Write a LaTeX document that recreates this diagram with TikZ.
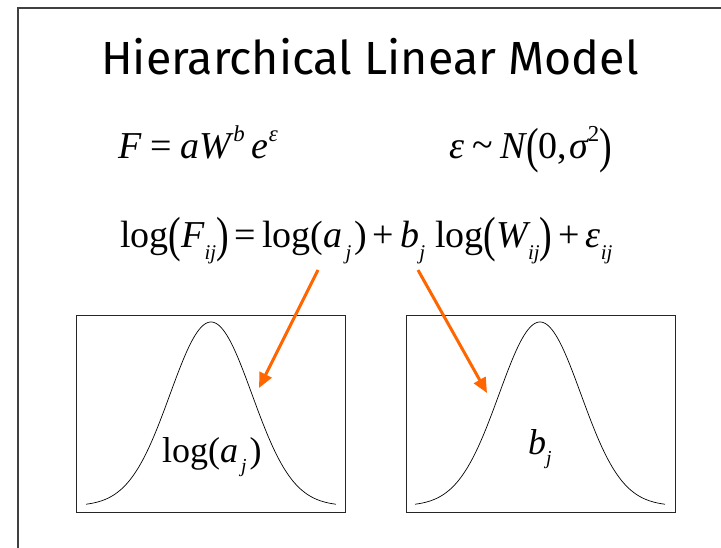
\documentclass[tikz,border=0pt]{standalone}
\usepackage{fontspec}
\setmainfont{Liberation Serif}
\newfontfamily\titlefont{Fira Sans}
\usetikzlibrary{arrows.meta}
\definecolor{arroworange}{RGB}{255,102,0}
\newcommand\mysub[1]{\raisebox{-0.3em}{\scalebox{0.55}{\itshape #1}}}
\newcommand\mysup[1]{\raisebox{0.45em}{\scalebox{0.6}{#1}}}
\newcommand\bigL{\raisebox{-0.1em}{\scalebox{1}[1.3]{(}}}
\newcommand\bigR{\raisebox{-0.1em}{\scalebox{1}[1.3]{)}}}
\newcommand\opsp{\kern6pt}
\newcommand\eqsp{\kern9pt}
\tikzset{
  eqtext/.style={anchor=base west, inner sep=0pt, font=\fontsize{38}{38}\selectfont},
  lbltext/.style={anchor=base west, inner sep=0pt, font=\fontsize{36}{36}\selectfont},
  plotbox/.style={draw=black!85, line width=0.8pt, inner sep=0pt, minimum width=269pt, minimum height=197pt},
  bell/.style={line width=0.7pt, smooth, samples=120, domain=-125:125},
  orangearrow/.style={draw=arroworange, line width=3pt, -{Triangle[length=15pt,width=13pt]}}
}
\begin{document}
\begin{tikzpicture}[x=1pt,y=-1pt]
\useasboundingbox (0,0) rectangle (721,548);
\fill[white] (0,0) rectangle (721,548);
% slide frame
\draw[line width=1.5pt, black!75] (18,548) -- (18,8) -- (721,8);
% title
\node[anchor=base, inner sep=0pt, font=\titlefont\fontsize{46.5}{46.5}\selectfont] (title) at (370,75) {Hierarchical Linear Model};
% equations
\node[eqtext] (eqone) at (118,159) {\itshape F\upshape\eqsp=\eqsp\itshape aW\kern2pt\mysup{\itshape b}\kern7pt e\mysup{\itshape ε}};
\node[eqtext] (eqtwo) at (449,159) {\itshape ε\upshape\kern8pt\raisebox{0.05em}{\textasciitilde}\kern8pt\itshape N\upshape\bigL 0,\kern2pt\itshape σ\upshape\mysup{2}\bigR};
\node[eqtext] (eqthree) at (120,248) {log\bigL\itshape F\mysub{ij}\upshape\bigR\opsp=\opsp log(\itshape a\kern3pt\mysub{j}\upshape\kern3pt)\opsp+\opsp\itshape b\mysub{j}\upshape\kern10pt log\bigL\itshape W\mysub{ij}\upshape\bigR\opsp+\opsp\itshape ε\mysub{ij}};
% boxes
\node[plotbox] (boxa) at (210.5,413.5) {};
\node[plotbox] (boxb) at (540.5,413.5) {};
% bell curves
\draw[bell] plot ({211+\x}, {506-184*exp(-((\x/41)^2)/2)});
\draw[bell] plot ({540+\x}, {506-184*exp(-((\x/41)^2)/2)});
% labels
\node[lbltext] (lbla) at (162,462) {log(\itshape a\kern3pt\mysub{j}\upshape\kern3pt)};
\node[lbltext] (lblb) at (528,454) {\itshape b\mysub{j}};
% arrows
\coordinate (asrc) at (318,270);
\coordinate (adst) at (259,388);
\coordinate (bsrc) at (418,270);
\coordinate (bdst) at (487,393);
\draw[orangearrow] (asrc) -- (adst);
\draw[orangearrow] (bsrc) -- (bdst);
\end{tikzpicture}
\end{document}
